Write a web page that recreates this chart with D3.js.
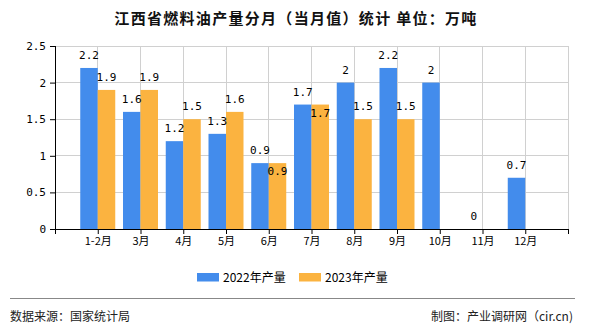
<!DOCTYPE html>
<html><head><meta charset="utf-8">
<script src="https://cdn.jsdelivr.net/npm/d3@7"></script>
<style>body{margin:0;background:#fff;}svg{display:block;}</style>
</head><body>
<script>
const categories = ["1-2月","3月","4月","5月","6月","7月","8月","9月","10月","11月","12月"];
const values2022 = [2.2,1.6,1.2,1.3,0.9,1.7,2,2.2,2,0,0.7];
const values2023 = [1.9,1.9,1.5,1.6,0.9,1.7,1.5,1.5,null,null,null];
const seriesNames = ["2022年产量","2023年产量"];
const yTicks = [0,0.5,1,1.5,2,2.5];
const colors = ["#438cec","#fbb340"];

(function(){
const W=590,H=330;
const svg=d3.select("body").append("svg").attr("width",W).attr("height",H);
const mono='"DejaVu Sans Mono","Liberation Mono",monospace';
const cjk='"Noto Sans CJK SC","Noto Sans",sans-serif';

const pL=55,pR=568,pT=46,pB=229;
const x=d3.scaleLinear().domain([0,categories.length+1]).range([pL,pR]);
const y=d3.scaleLinear().domain([0,2.5]).range([pB,pT]);
const bw=17.5;

// title
svg.append("text").attr("x",296).attr("y",24).attr("text-anchor","middle")
  .attr("font-family",cjk).attr("font-size",15).attr("font-weight","bold")
  .attr("letter-spacing",1.3).attr("fill","#111").text("江西省燃料油产量分月（当月值）统计 单位：万吨");

// grid
const g=svg.append("g");
g.selectAll(".hg").data(yTicks.filter(d=>d>0)).enter().append("line")
  .attr("x1",pL).attr("x2",pR).attr("y1",d=>y(d)).attr("y2",d=>y(d))
  .attr("stroke","#d0d0d0").attr("stroke-width",1).attr("shape-rendering","crispEdges");
const vgrid=d3.range(1,categories.length+2);
g.selectAll(".vg").data(vgrid).enter().append("line")
  .attr("x1",d=>x(d)).attr("x2",d=>x(d)).attr("y1",pT).attr("y2",pB)
  .attr("stroke","#d0d0d0").attr("stroke-width",1).attr("shape-rendering","crispEdges");

// bars
const data=categories.map((c,i)=>({c,i,a:values2022[i],b:values2023[i]}));
g.selectAll(".ba").data(data.filter(d=>d.a!=null)).enter().append("rect")
  .attr("x",d=>x(d.i+1)-bw).attr("width",bw).attr("y",d=>y(d.a)).attr("height",d=>pB-y(d.a))
  .attr("fill",colors[0]);
g.selectAll(".bb").data(data.filter(d=>d.b!=null)).enter().append("rect")
  .attr("x",d=>x(d.i+1)).attr("width",bw).attr("y",d=>y(d.b)).attr("height",d=>pB-y(d.b))
  .attr("fill",colors[1]);

// axes
const yAxis=d3.axisLeft(y).tickValues(yTicks).tickSize(5).tickFormat(d=>d);
const ya=svg.append("g").attr("transform",`translate(${pL},0)`).call(yAxis);
ya.select(".domain").remove();
ya.selectAll("line").attr("stroke","#000");
ya.selectAll("text").attr("font-family",mono).attr("font-size",11).attr("fill","#000").attr("x",-9);
svg.append("line").attr("x1",pL+0.5).attr("x2",pL+0.5).attr("y1",pT).attr("y2",pB).attr("stroke","#000");

const xAxis=d3.axisBottom(x).tickValues(d3.range(0,categories.length+2)).tickSize(5)
  .tickFormat(d=>(d>=1&&d<=categories.length)?categories[d-1]:"");
const xa=svg.append("g").attr("transform",`translate(0,${pB})`).call(xAxis);
xa.select(".domain").attr("stroke","#000").attr("d",`M${pL},0.5H${pR}`);
xa.selectAll("line").attr("stroke","#000");
xa.selectAll("text").attr("font-family",cjk).attr("font-size",11).attr("fill","#000").attr("dy","0.9em").attr("y",6);

// labels
const lab=svg.append("g").attr("font-family",mono).attr("font-size",11).attr("fill","#000").attr("text-anchor","middle");
lab.selectAll(".la").data(data.filter(d=>d.a!=null)).enter().append("text")
  .attr("x",d=>x(d.i+1)-bw/2).attr("y",d=>y(d.a)-9).text(d=>d.a);
lab.selectAll(".lb").data(data.filter(d=>d.b!=null)).enter().append("text")
  .attr("x",d=>x(d.i+1)+bw/2).attr("y",d=>d.b===d.a? y(d.b)+12 : y(d.b)-9).text(d=>d.b);

// legend
const leg=svg.append("g");
const lx=[197,299];
seriesNames.forEach((n,i)=>{
  leg.append("rect").attr("x",lx[i]).attr("y",273).attr("width",22).attr("height",8.5).attr("fill",colors[i]);
  leg.append("text").attr("x",lx[i]+26).attr("y",282).attr("font-family",cjk).attr("font-size",12).attr("fill","#000").text(n);
});

// footer
svg.append("line").attr("x1",10).attr("x2",575).attr("y1",298.5).attr("y2",298.5).attr("stroke","#888").attr("stroke-width",1);
svg.append("text").attr("x",10).attr("y",321).attr("font-family",cjk).attr("font-size",12).attr("fill","#222").text("数据来源：国家统计局");
svg.append("text").attr("x",573).attr("y",321).attr("text-anchor","end").attr("font-family",cjk).attr("font-size",12).attr("fill","#222").text("制图：产业调研网（cir.cn)");
})();
</script>
</body></html>
